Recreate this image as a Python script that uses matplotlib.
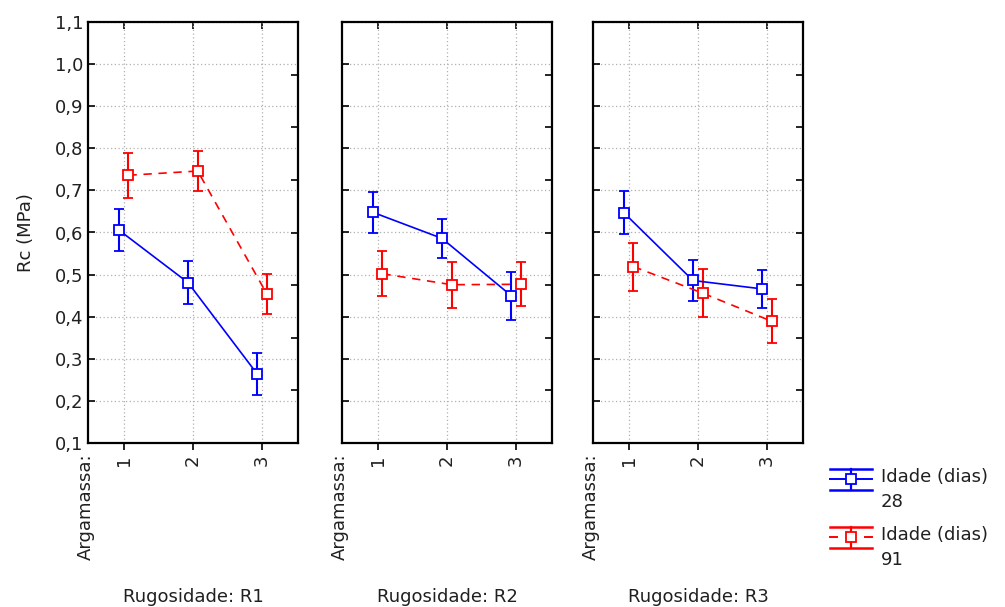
import matplotlib
matplotlib.use("Agg")
import matplotlib.pyplot as plt
from matplotlib.ticker import FixedLocator
from matplotlib.lines import Line2D
import numpy as np

plt.rcParams['font.family'] = ['DejaVu Sans']

# Rugosidade panels and Argamassa levels
panels = ["R1", "R2", "R3"]
argamassa = [1, 2, 3]
yticks = [0.1, 0.2, 0.3, 0.4, 0.5, 0.6, 0.7, 0.8, 0.9, 1.0, 1.1]
ytick_labels = ["0,1", "0,2", "0,3", "0,4", "0,5", "0,6", "0,7", "0,8", "0,9", "1,0", "1,1"]

# Mean Rc (MPa) and half-width of the confidence bars, age 28 days
rc_28 = [[0.606, 0.481, 0.264],
         [0.648, 0.586, 0.450],
         [0.647, 0.486, 0.466]]
err_28 = [[0.051, 0.052, 0.050],
          [0.049, 0.046, 0.057],
          [0.051, 0.049, 0.045]]

# Mean Rc (MPa) and half-width of the confidence bars, age 91 days
rc_91 = [[0.736, 0.746, 0.454],
         [0.502, 0.476, 0.477],
         [0.519, 0.456, 0.389]]
err_91 = [[0.053, 0.047, 0.047],
          [0.053, 0.055, 0.052],
          [0.057, 0.057, 0.052]]

series_labels = ["Idade (dias)\n28", "Idade (dias)\n91"]
series_colors = ["#0000ff", "#ff0000"]
series_styles = ["-", (0, (5, 4))]

fig = plt.figure(figsize=(10.05, 6.07), dpi=100)
W, H = 1005, 607
lefts = [88, 342, 593]
width = 210
bottom_px, top_px = 443, 22

text_col = "#202020"
fs = 13
off = 0.07
for i, (left, name) in enumerate(zip(lefts, panels)):
    ax = fig.add_axes([left / W, 1 - bottom_px / H, width / W, (bottom_px - top_px) / H])
    x = np.array(argamassa, dtype=float)
    for k, (vals, errs, dx) in enumerate([(rc_28[i], err_28[i], -off),
                                          (rc_91[i], err_91[i], off)]):
        c = series_colors[k]
        ax.errorbar(x + dx, vals, yerr=errs, color=c, lw=1.2,
                    ls=series_styles[k], marker="s", ms=7, mfc="white",
                    mec=c, mew=1.3, capsize=3.5, capthick=1.4,
                    elinewidth=1.5, zorder=3)
    ax.set_xlim(0.485, 3.52)
    ax.set_ylim(0.1, 1.1)
    ax.set_yticks(yticks)
    ax.set_xticks(argamassa)
    ax.grid(True, color="#b0b0b0", ls=(0, (1, 2)), lw=0.9)
    ax.tick_params(axis="y", direction="in", length=5, width=1.2, colors="black",
                   left=True, right=False)
    ax.tick_params(axis="x", direction="out", length=5, width=1.2, top=False,
                   bottom=True)
    ax.set_xticklabels([str(a) for a in argamassa], rotation=90, fontsize=fs,
                       color=text_col)
    if i == 0:
        ax.set_yticklabels(ytick_labels, fontsize=fs, color=text_col)
        ax.set_ylabel("Rc (MPa)", fontsize=fs, color=text_col, labelpad=14)
    else:
        ax.set_yticklabels([])
    for sp in ax.spines.values():
        sp.set_linewidth(1.6)
    # inner ticks along the top edge at each level
    axt = ax.secondary_xaxis("top")
    axt.set_xticks(argamassa)
    axt.tick_params(axis="x", direction="in", length=5, width=1.2, labeltop=False)
    axt.spines["top"].set_visible(False)
    # right-hand inner ticks
    ax2 = ax.twinx()
    ax2.set_ylim(0, 8)
    ax2.yaxis.set_major_locator(FixedLocator([1, 2, 3, 4, 5, 6, 7]))
    ax2.tick_params(axis="y", direction="in", length=5, width=1.2, labelright=False)
    for sp in ax2.spines.values():
        sp.set_visible(False)
    # factor label and panel title
    fig.text((left - 2) / W, 1 - 453 / H, "Argamassa:", rotation=90, ha="center",
             va="top", fontsize=fs, color=text_col)
    fig.text((left + width / 2) / W, 1 - 597 / H, "Rugosidade: " + name,
             ha="center", va="center", fontsize=fs, color=text_col)

# legend keys: line, wide caps, vertical bar and hollow square
key_x0, key_x1 = 830, 872
key_centers = [479, 537]
half = 10.5
for k, cy in enumerate(key_centers):
    c = series_colors[k]
    xm = (key_x0 + key_x1) / 2
    fx = lambda px: px / W
    fy = lambda py: 1 - py / H
    if k == 0:
        fig.add_artist(Line2D([fx(key_x0), fx(key_x1)], [fy(cy), fy(cy)],
                              color=c, lw=1.4))
    else:
        for a, b in [(key_x0, key_x0 + 7), (key_x1 - 7, key_x1)]:
            fig.add_artist(Line2D([fx(a), fx(b)], [fy(cy), fy(cy)], color=c, lw=1.4))
    for yy in (cy - half, cy + half):
        fig.add_artist(Line2D([fx(key_x0), fx(key_x1)], [fy(yy), fy(yy)],
                              color=c, lw=1.8))
    fig.add_artist(Line2D([fx(xm), fx(xm)], [fy(cy - half), fy(cy + half)],
                          color=c, lw=1.6))
    fig.add_artist(Line2D([fx(xm)], [fy(cy)], marker="s", ms=6.5, mfc="white",
                          mec=c, mew=1.3, ls="none"))
    fig.text(fx(881), fy(cy - 11), series_labels[k], ha="left", va="top",
             fontsize=fs, color=text_col, linespacing=1.5)

fig.savefig("out.png", dpi=100)
